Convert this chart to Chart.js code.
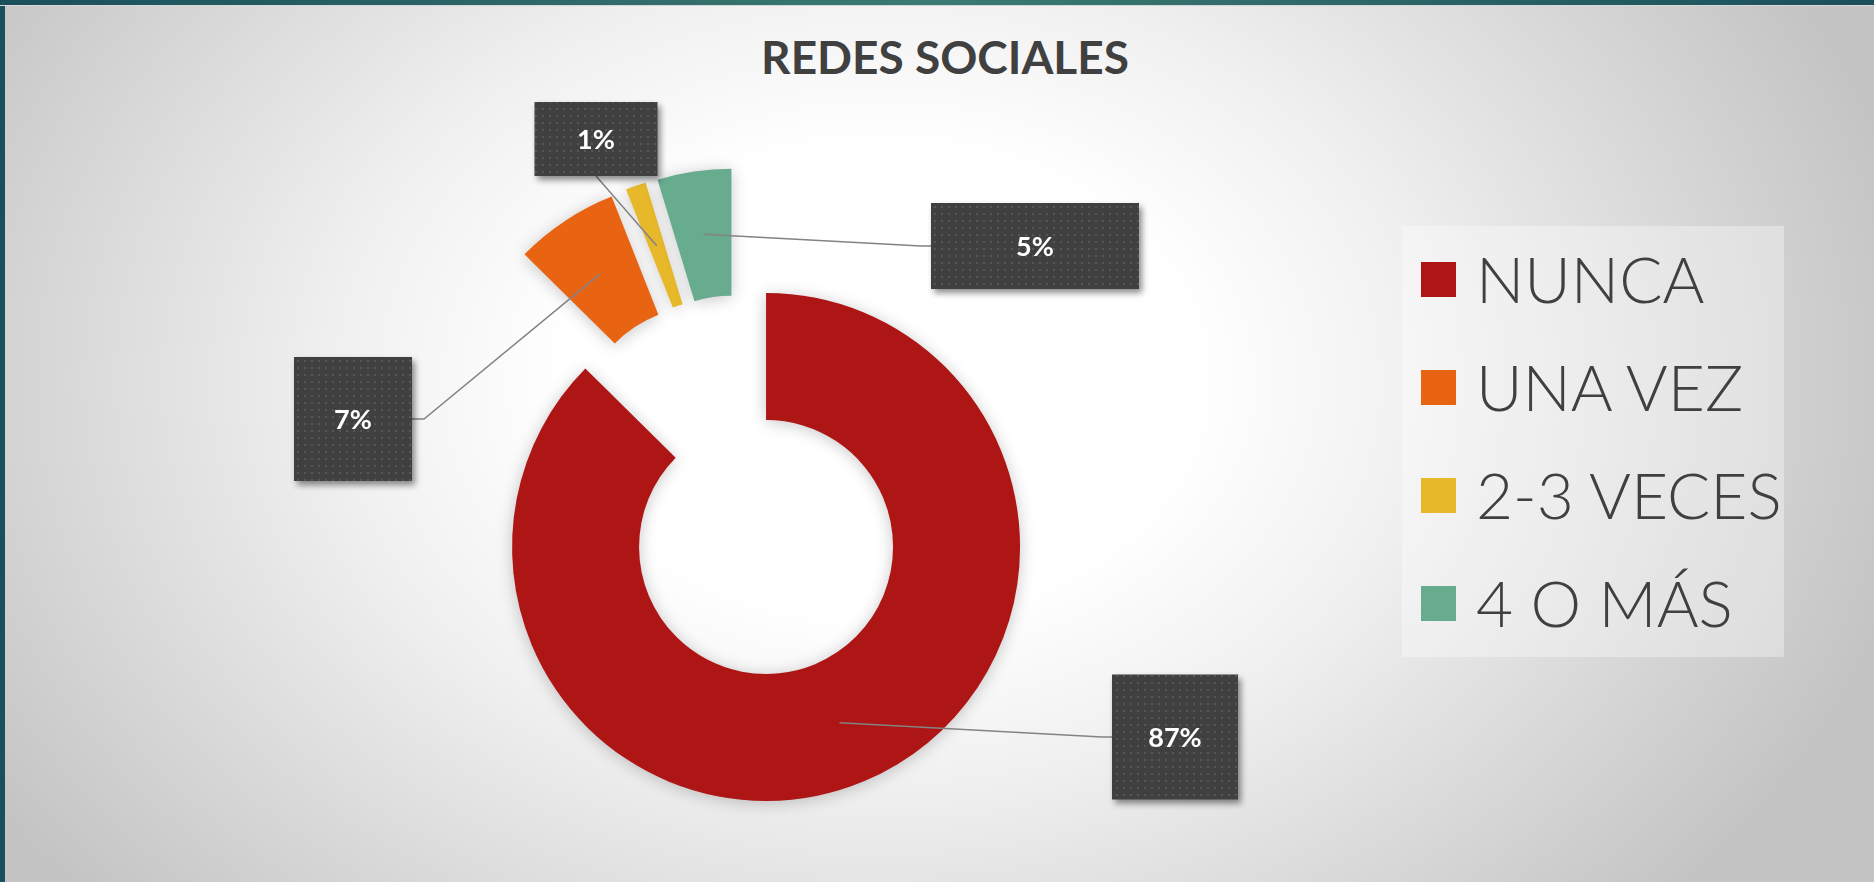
<!DOCTYPE html>
<html>
<head>
<meta charset="utf-8">
<script src="https://cdn.jsdelivr.net/npm/chart.js@4.4.1/dist/chart.umd.min.js"></script>
<style>
  html, body { margin: 0; padding: 0; overflow: hidden; }
  body {
    width: 1874px; height: 882px; position: relative;
    background: radial-gradient(ellipse 1050px 780px at 880px 380px, #ffffff 0%, #ffffff 30%, #f0f0f0 52%, #c4c4c4 100%);
    font-family: Lato, "Open Sans", sans-serif;
  }
  .topbar { position: absolute; left: 0; top: 0; width: 1874px; height: 5px;
    background: linear-gradient(90deg, #1b4f5b 0%, #3b7b72 50%, #1b4f5b 100%);
    border-bottom: 1px solid #d8d8d8; }
  .leftbar { position: absolute; left: 0; top: 0; width: 5px; height: 882px; background: #1b4f5b; }
  #wrap { position: absolute; left: 0; top: 0; width: 1874px; height: 882px; }
  h1 { position: absolute; left: 8px; top: 29px; width: 1874px; margin: 0; text-align: center;
    font-size: 46px; font-weight: bold; color: #404040; line-height: 56px; }
  #legend { position: absolute; left: 1402px; top: 226px; width: 382px; height: 431px;
    background: rgba(255,255,255,0.35); }
  .item { position: absolute; left: 19px; height: 70px; display: flex; align-items: center; }
  .swatch { width: 35px; height: 35px; margin-right: 20px; }
  .item span { font-size: 64px; font-weight: 300; color: #404040; line-height: 70px; white-space: nowrap; }
</style>
</head>
<body>
<div class="leftbar"></div>
<div class="topbar"></div>
<h1>REDES SOCIALES</h1>
<div id="wrap"><canvas id="myChart"></canvas></div>
<div id="legend"></div>
<script>
// Data
const categories = ["NUNCA", "UNA VEZ", "2-3 VECES", "4 O MÁS"];
const percentValues = [87.4, 6.6, 1.3, 4.7];
const sliceColors = ["#ae1515", "#e86412", "#e6b82a", "#68ac8f"];

// Callout boxes, placed relative to the pie center
const labelBoxes = [
  { dx: 434, dy: 250, w: 126, h: 125, side: "left" },
  { dx: -388, dy: -68, w: 118, h: 124, side: "right" },
  { dx: -145, dy: -348, w: 123, h: 74, side: "bottom" },
  { dx: 294, dy: -241, w: 208, h: 86, side: "left" }
];

const explode = 65;

// Legend (html)
const legendEl = document.getElementById("legend");
categories.forEach((name, i) => {
  const row = document.createElement("div");
  row.className = "item";
  row.style.top = (18 + i * 108) + "px";
  row.innerHTML = '<div class="swatch" style="background:' + sliceColors[i] + '"></div><span>' + name + "</span>";
  legendEl.appendChild(row);
});

// Dot pattern for the callout boxes
function makePattern(ctx) {
  const p = document.createElement("canvas");
  p.width = 7; p.height = 7;
  const pc = p.getContext("2d");
  pc.fillStyle = "#404040";
  pc.fillRect(0, 0, 7, 7);
  pc.fillStyle = "#565656";
  pc.fillRect(3, 3, 2, 2);
  return ctx.createPattern(p, "repeat");
}

// Move every slice out along its middle angle
const explodePlugin = {
  id: "explodeSlices",
  afterDatasetUpdate(chart, args) {
    args.meta.data.forEach(arc => {
      if (arc._exploded) return;
      arc._exploded = true;
      const baseDraw = arc.draw;
      arc.draw = function (ctx) {
        const half = (this.startAngle + this.endAngle) / 2;
        ctx.save();
        ctx.translate(Math.cos(half) * explode, Math.sin(half) * explode);
        baseDraw.call(this, ctx);
        ctx.restore();
      };
    });
  },
  beforeDatasetsDraw(chart) {
    const ctx = chart.ctx;
    ctx.save();
    ctx.shadowColor = "rgba(0,0,0,0.22)";
    ctx.shadowBlur = 16;
    ctx.shadowOffsetY = 2;
  },
  afterDatasetsDraw(chart) {
    chart.ctx.restore();
  }
};

// Leader lines and percentage boxes
const calloutPlugin = {
  id: "callouts",
  afterDraw(chart) {
    const ctx = chart.ctx;
    const meta = chart.getDatasetMeta(0);
    const area = chart.chartArea;
    const cx = (area.left + area.right) / 2;
    const cy = (area.top + area.bottom) / 2;
    const total = percentValues.reduce((a, b) => a + b, 0);
    const pattern = makePattern(ctx);

    meta.data.forEach((arc, i) => {
      const box = labelBoxes[i];
      const half = (arc.startAngle + arc.endAngle) / 2;
      const r = explode + (arc.innerRadius + arc.outerRadius) / 2;
      const ax = arc.x + Math.cos(half) * r;
      const ay = arc.y + Math.sin(half) * r;
      const bx = cx + box.dx, by = cy + box.dy;
      let ex, ey, sx, sy;
      if (box.side === "left") { ex = bx - box.w / 2; ey = by; sx = ex - 10; sy = ey; }
      else if (box.side === "right") { ex = bx + box.w / 2; ey = by; sx = ex + 12; sy = ey; }
      else { ex = bx; ey = by + box.h / 2; sx = ex; sy = ey; }

      ctx.save();
      ctx.strokeStyle = "#838383";
      ctx.lineWidth = 1.5;
      ctx.beginPath();
      ctx.moveTo(ax, ay);
      ctx.lineTo(sx, sy);
      ctx.lineTo(ex, ey);
      ctx.stroke();

      ctx.shadowColor = "rgba(0,0,0,0.45)";
      ctx.shadowBlur = 6;
      ctx.shadowOffsetX = 3;
      ctx.shadowOffsetY = 4;
      ctx.fillStyle = pattern;
      ctx.fillRect(bx - box.w / 2, by - box.h / 2, box.w, box.h);
      ctx.restore();

      ctx.save();
      ctx.fillStyle = "#ffffff";
      ctx.font = "bold 27px Lato, 'Open Sans', sans-serif";
      ctx.textAlign = "center";
      ctx.textBaseline = "middle";
      ctx.fillText(Math.round(percentValues[i] / total * 100) + "%", bx, by + 1);
      ctx.restore();
    });
  }
};

window.onload = () => {
  const ctx = document.getElementById("myChart").getContext("2d");
  new Chart(ctx, {
    type: "doughnut",
    data: {
      labels: categories,
      datasets: [{
        data: percentValues,
        backgroundColor: sliceColors,
        borderWidth: 0
      }]
    },
    options: {
      responsive: true,
      maintainAspectRatio: false,
      animation: false,
      radius: 254,
      cutout: "50%",
      layout: { padding: { left: 0, right: 392, top: 92, bottom: 0 } },
      plugins: {
        legend: { display: false },
        title: { display: false },
        tooltip: { enabled: false }
      }
    },
    plugins: [explodePlugin, calloutPlugin]
  });
};
</script>
</body>
</html>
